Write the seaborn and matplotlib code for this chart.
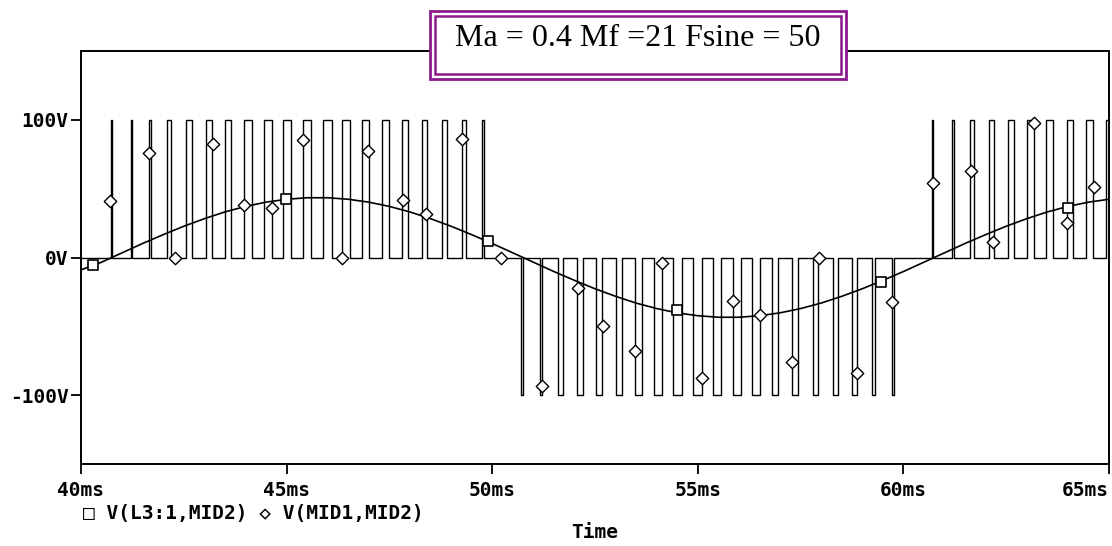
import numpy as np
import pandas as pd
import matplotlib.pyplot as plt
import seaborn as sns
from matplotlib.patches import Rectangle

# filtered output V(L3:1,MID2), read every 0.5 ms
sine_t = np.arange(40.0, 65.01, 0.5)
sine_v = [-9.0, -3.4, 3.4, 10.2, 16.6, 22.7, 28.2, 33.1, 37.1, 40.2,
          42.3, 43.4, 43.4, 42.3, 40.2, 37.1, 33.1, 28.2, 22.7, 16.6,
          10.2, 3.4, -3.4, -10.2, -16.6, -22.7, -28.2, -33.1, -37.1, -40.2,
          -42.3, -43.4, -43.4, -42.3, -40.2, -37.1, -33.1, -28.2, -22.7, -16.6,
          -10.2, -3.4, 3.4, 10.2, 16.6, 22.7, 28.2, 33.1, 37.1, 40.2, 42.3]

# square markers on the filtered trace
sq_t = [40.28, 44.99, 49.89, 54.49, 59.46, 64.00]
sq_v = [-5.6, 42.3, 12.1, -38.2, -18.1, 36.2]

# PWM pulses V(MID1,MID2): edges in ms, level in V
pos1_start = [40.72, 41.21, 41.65, 42.09, 42.55, 43.04, 43.50, 43.97, 44.44, 44.92,
              45.39, 45.88, 46.34, 46.83, 47.31, 47.81, 48.30, 48.77, 49.26, 49.74]
pos1_end = [40.75, 41.25, 41.71, 42.20, 42.70, 43.18, 43.66, 44.15, 44.64, 45.11,
            45.59, 46.10, 46.54, 47.00, 47.49, 47.95, 48.42, 48.89, 49.36, 49.79]
neg_start = [50.71, 51.17, 51.61, 52.07, 52.52, 53.01, 53.47, 53.93, 54.40, 54.89,
             55.38, 55.86, 56.33, 56.81, 57.30, 57.81, 58.30, 58.76, 59.23, 59.72]
neg_end = [50.74, 51.21, 51.71, 52.20, 52.68, 53.16, 53.65, 54.12, 54.61, 55.09,
           55.56, 56.05, 56.51, 56.96, 57.44, 57.93, 58.40, 58.87, 59.32, 59.77]
pos2_start = [60.69, 61.18, 61.62, 62.08, 62.54, 63.01, 63.48, 63.97, 64.43, 64.92]
pos2_end = [60.72, 61.22, 61.72, 62.20, 62.69, 63.18, 63.64, 64.13, 64.62, 65.11]

# diamond markers on the PWM trace
dm_t = [40.71, 41.65, 42.29, 43.20, 43.97, 44.64, 45.41, 46.34, 46.99, 47.82, 48.39,
        49.27, 50.21, 51.20, 52.08, 52.69, 53.47, 54.12, 55.09, 55.86, 56.51, 57.30,
        57.95, 58.86, 59.73, 60.71, 61.64, 62.19, 63.18, 63.99, 64.64]
dm_v = [40.8, 75.9, 0, 82.6, 38.4, 36.2, 85.0, 0, 77.0, 42.0, 31.4,
        86.0, 0, -93.2, -22.5, -49.8, -67.9, -4.3, -87.7, -31.4, -41.8, -75.6,
        0, -83.6, -32.6, 54.3, 62.5, 11.3, 97.6, 25.1, 51.2]

y_ticks = [-100, 0, 100]
y_labels = ["-100V", "0V", "100V"]
x_ticks = [40, 45, 50, 55, 60, 65]
x_labels = ["40ms", "45ms", "50ms", "55ms", "60ms", "65ms"]

# step trace out of the pulse edges
pt, pv = [40.0], [0.0]
for starts, ends, lvl in [(pos1_start, pos1_end, 100), (neg_start, neg_end, -100),
                          (pos2_start, pos2_end, 100)]:
    for a, b in zip(starts, ends):
        pt += [a, a, b, b]
        pv += [0, lvl, lvl, 0]
pwm = pd.DataFrame({"t": pt, "v": pv})
sine = pd.DataFrame({"t": sine_t, "v": sine_v})

sns.set_style("white")
plt.rcParams["font.family"] = ["DejaVu Sans Mono", "DejaVu Sans"]
plt.rcParams["font.weight"] = "bold"
plt.rcParams["text.color"] = "black"

fig = plt.figure(figsize=(11.12, 5.46), dpi=100)
ax = fig.add_axes([81 / 1112, 82 / 546, 1028 / 1112, 413 / 546])

sns.lineplot(data=pwm, x="t", y="v", sort=False, estimator=None, color="black",
             linewidth=1.0, ax=ax)
sns.lineplot(data=sine, x="t", y="v", color="black", linewidth=1.2, ax=ax)
sns.scatterplot(x=dm_t, y=dm_v, marker="D", s=40, facecolor="white",
                edgecolor="black", linewidth=1.0, ax=ax, zorder=5)
sns.scatterplot(x=sq_t, y=sq_v, marker="s", s=60, facecolor="white",
                edgecolor="black", linewidth=1.2, ax=ax, zorder=5)

ax.set_xlim(40, 65)
ax.set_ylim(-150, 150)
ax.set_xticks(x_ticks)
ax.set_xticklabels(x_labels)
ax.set_yticks(y_ticks)
ax.set_yticklabels(y_labels)
ax.get_xticklabels()[-1].set_ha("right")
ax.tick_params(axis="both", direction="out", length=7, width=1.3, colors="black",
               labelsize=14, pad=5, bottom=True, left=True)
ax.tick_params(axis="y", pad=2)
ax.set_xlabel("")
ax.set_ylabel("")
for s in ax.spines.values():
    s.set_color("black")
    s.set_linewidth(1.4)

fig.text(83 / 1112, 1 - 513 / 546, "\u25a1 V(L3:1,MID2) \u25c7 V(MID1,MID2)",
         fontsize=14, fontweight="bold", color="black", va="center", ha="left")
fig.text(595 / 1112, 1 - 533 / 546, "Time", fontsize=14, fontweight="bold",
         color="black", va="center", ha="center")

# title box with double purple border over the top frame
purple = "#8b1a8b"
fig.add_artist(Rectangle((430 / 1112, 1 - 79 / 546), 416 / 1112, 68 / 546,
                         transform=fig.transFigure, facecolor="white",
                         edgecolor=purple, linewidth=2.0, zorder=10))
fig.add_artist(Rectangle((435 / 1112, 1 - 74 / 546), 406 / 1112, 58 / 546,
                         transform=fig.transFigure, facecolor="none",
                         edgecolor=purple, linewidth=1.8, zorder=11))
fig.text(638 / 1112, 1 - 38 / 546, "Ma = 0.4 Mf =21 Fsine = 50",
         family="Liberation Serif", fontweight="normal", fontsize=23,
         color="black", ha="center", va="center", zorder=12)

fig.savefig("out.png", dpi=100)
